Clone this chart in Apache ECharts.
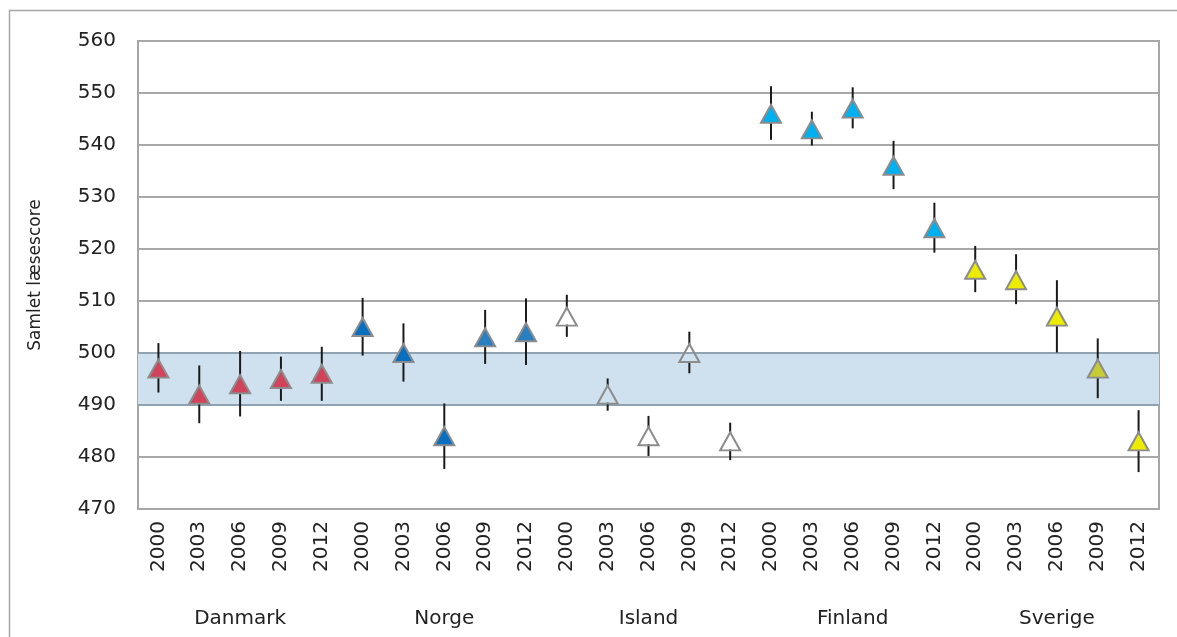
<!DOCTYPE html>
<html>
<head>
<meta charset="utf-8">
<script src="https://cdn.jsdelivr.net/npm/echarts@6/dist/echarts.min.js"></script>
<style>
html,body{margin:0;padding:0;background:#fff;}
#chart{width:1177px;height:637px;}
</style>
</head>
<body>
<div id="chart"></div>
<script>
const countries = ['Danmark', 'Norge', 'Island', 'Finland', 'Sverige'];
const years = ['2000', '2003', '2006', '2009', '2012'];
const categories = [].concat(years, years, years, years, years);

const scores = [497, 492, 494, 495, 496,
                505, 500, 484, 503, 504,
                507, 492, 484, 500, 483,
                546, 543, 547, 536, 524,
                516, 514, 507, 497, 483];
const ciLow = [492.4, 486.5, 487.8, 490.8, 490.8,
               499.5, 494.5, 477.7, 497.9, 497.7,
               503.1, 488.9, 480.2, 496.1, 479.4,
               541.0, 539.9, 543.2, 531.5, 519.3,
               511.7, 509.4, 500.1, 491.3, 477.1];
const ciHigh = [501.9, 497.6, 500.4, 499.3, 501.2,
                510.6, 505.7, 490.3, 508.3, 510.5,
                511.2, 495.1, 487.9, 504.1, 486.6,
                551.3, 546.4, 551.1, 540.8, 528.9,
                520.6, 519.0, 514.0, 502.8, 489.0];
const fills = ['#d0435a', '#d0435a', '#d0435a', '#d0435a', '#d0435a',
               '#0b6fbf', '#0b6fbf', '#0b6fbf', '#2a7fc0', '#2a7fc0',
               'rgba(255,255,255,0)', 'rgba(255,255,255,0)', 'rgba(255,255,255,0)', 'rgba(255,255,255,0)', 'rgba(255,255,255,0)',
               '#00b0ef', '#00b0ef', '#00b0ef', '#00b0ef', '#00b0ef',
               '#ecec00', '#ecec00', '#ecec00', '#c6cb36', '#ecec00'];
const bandLow = 490, bandHigh = 500;

const font = 'DejaVu Sans, Verdana, sans-serif';
const chart = echarts.init(document.getElementById('chart'));

const option = {
  animation: false,
  backgroundColor: '#fff',
  graphic: [{
    type: 'rect', silent: true, z: -10,
    shape: {x: 9.5, y: 10.5, width: 1200, height: 700},
    style: {fill: 'none', stroke: '#a6a6a6', lineWidth: 1.5}
  }],
  grid: {left: 138, right: 18, top: 41, bottom: 128, show: true, borderColor: '#a6a6a6', borderWidth: 2, backgroundColor: 'transparent'},
  xAxis: [{
    type: 'category', data: categories, gridIndex: 0, position: 'bottom',
    axisLine: {show: true, lineStyle: {color: '#a6a6a6', width: 2}},
    axisTick: {show: false},
    axisLabel: {rotate: 90, interval: 0, margin: 12, fontFamily: font, fontSize: 20, color: '#222'},
    splitLine: {show: false}
  }, {
    type: 'category', data: countries, gridIndex: 0, position: 'bottom', offset: 92,
    axisLine: {show: false}, axisTick: {show: false},
    axisLabel: {interval: 0, fontFamily: font, fontSize: 20, color: '#222', margin: 8},
    splitLine: {show: false}
  }],
  yAxis: {
    type: 'value', min: 470, max: 560, interval: 10,
    name: 'Samlet læsescore', nameLocation: 'middle', nameGap: 94, nameRotate: 90,
    nameTextStyle: {fontFamily: font, fontSize: 17, color: '#222'},
    axisLine: {show: true, lineStyle: {color: '#a6a6a6', width: 2}},
    axisTick: {show: false},
    axisLabel: {fontFamily: font, fontSize: 20, color: '#222', margin: 22},
    splitLine: {show: true, lineStyle: {color: '#a8a8a8', width: 2}}
  },
  series: [{
    type: 'custom', name: 'band', z: 1, silent: true,
    data: [[0, bandLow, bandHigh]],
    renderItem: function (params, api) {
      const cs = params.coordSys;
      const top = api.coord([0, api.value(2)])[1];
      const bot = api.coord([0, api.value(1)])[1];
      return {type: 'group', children: [
        {type: 'rect', shape: {x: cs.x, y: top, width: cs.width, height: bot - top}, style: {fill: '#cfe0ee'}},
        {type: 'line', shape: {x1: cs.x, y1: top, x2: cs.x + cs.width, y2: top}, style: {stroke: '#8fa2b2', lineWidth: 2}},
        {type: 'line', shape: {x1: cs.x, y1: bot, x2: cs.x + cs.width, y2: bot}, style: {stroke: '#8fa2b2', lineWidth: 2}}
      ]};
    }
  }, {
    type: 'custom', name: 'ci', z: 3, silent: true,
    data: scores.map((s, i) => [i, ciLow[i], ciHigh[i], s]),
    renderItem: function (params, api) {
      const x = api.value(0);
      const pLow = api.coord([x, api.value(1)]);
      const pHigh = api.coord([x, api.value(2)]);
      const pMid = api.coord([x, api.value(3)]);
      const gap = 8;
      const children = [];
      if (pHigh[1] < pMid[1] - gap) {
        children.push({type: 'line', shape: {x1: pHigh[0], y1: pHigh[1], x2: pHigh[0], y2: pMid[1] - gap}, style: {stroke: '#1a1a1a', lineWidth: 2}});
      }
      if (pLow[1] > pMid[1] + gap) {
        children.push({type: 'line', shape: {x1: pLow[0], y1: pMid[1] + gap, x2: pLow[0], y2: pLow[1]}, style: {stroke: '#1a1a1a', lineWidth: 2}});
      }
      return {type: 'group', children: children};
    }
  }, {
    type: 'scatter', name: 'score', z: 5,
    symbol: 'triangle', symbolSize: [20, 18],
    data: scores.map((s, i) => ({value: s, itemStyle: {color: fills[i], borderColor: '#8c8c8c', borderWidth: 2, opacity: 1}})),
    emphasis: {disabled: true}
  }]
};
chart.setOption(option);
</script>
</body>
</html>
